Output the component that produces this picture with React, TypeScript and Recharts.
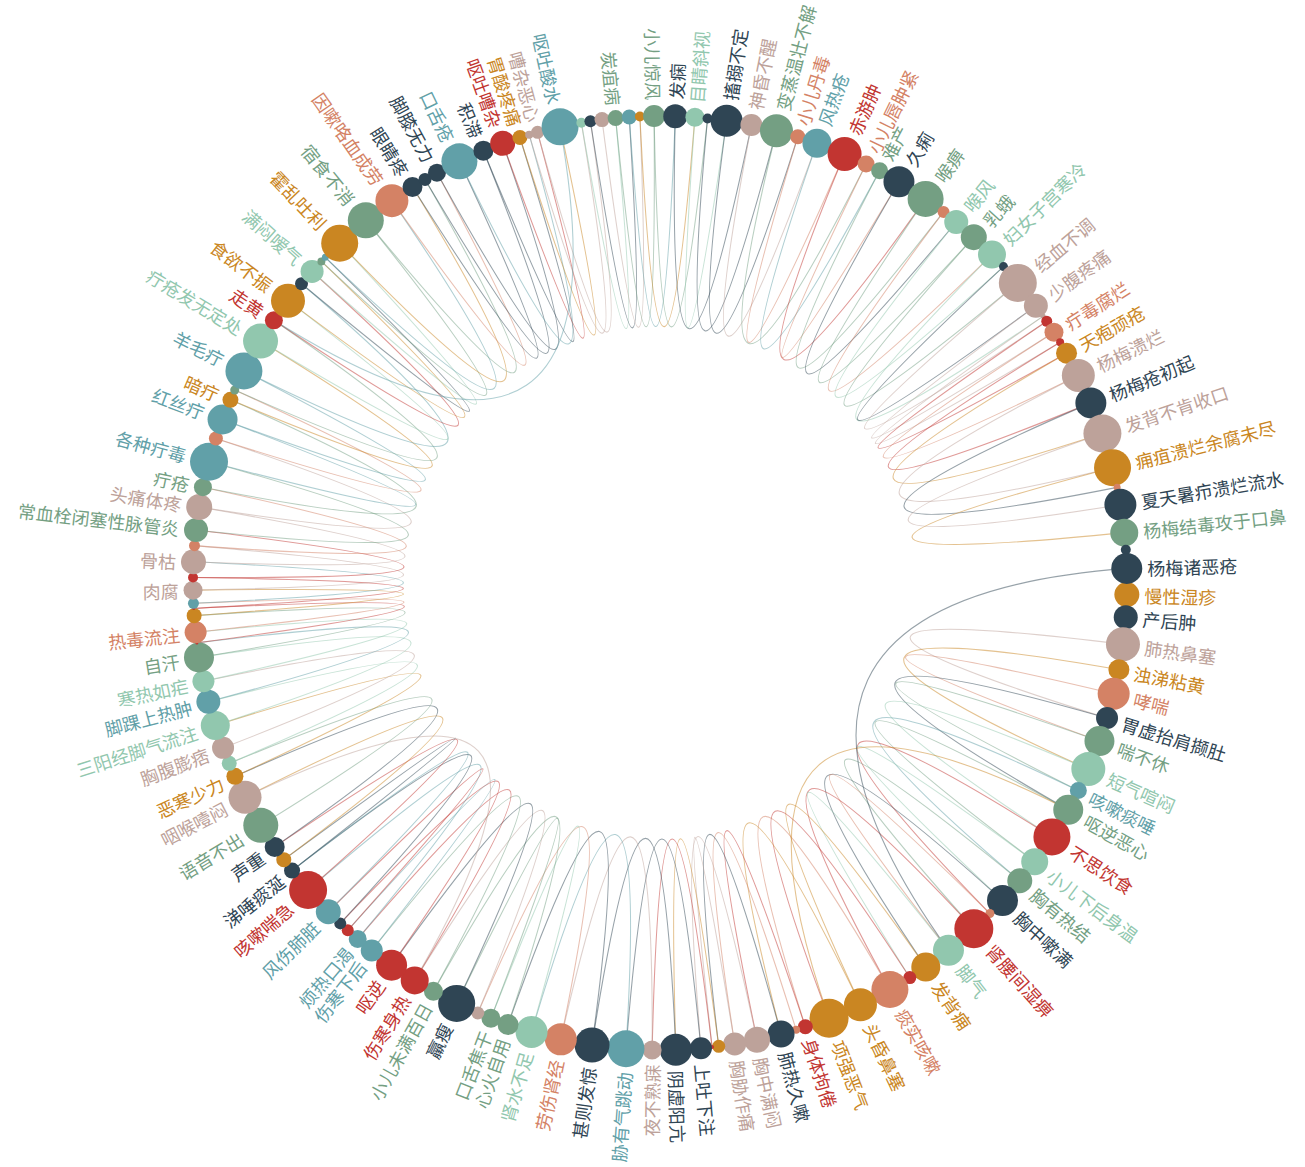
import React from "react";
import { PieChart, Pie } from "recharts";

// echarts 4 default palette, one colour per category
const palette = ["#c23531", "#2f4554", "#61a0a8", "#d48265", "#91c7ae", "#749f83", "#ca8622", "#bda29a"];

// nodes in layout order, clockwise from 3 o'clock ("" = label hidden)
const names = [
  "慢性湿疹", "产后肿", "肺热鼻塞", "浊涕粘黄", "哮喘", "胃虚抬肩撷肚", "喘不休", "短气喧闷", "咳嗽痰唾", "呕逆恶心",
  "不思饮食", "小儿下后身温", "胸有热结", "胸中嗽满", "", "肾腰间湿痹", "脚气", "发背痈", "", "痰实咳嗽",
  "头昏鼻塞", "项强恶气", "身体拘倦", "", "肺热久嗽", "胸中满闷", "胸胁作痛", "", "", "上吐下注",
  "阴虚阳亢", "夜不熟寐", "胁有气跳动", "甚则发惊", "劳伤肾经", "肾水不足", "心火自用", "口舌焦干", "", "羸瘦",
  "小儿未满百日", "伤寒身热", "呕逆", "伤寒下后", "烦热口渴", "", "", "风伤肺脏", "咳嗽喘急", "涕唾痰涎",
  "", "声重", "语音不出", "咽喉噎闷", "恶寒少力", "", "胸腹膨痞", "三阳经脚气流注", "脚踝上热肿", "寒热如疟",
  "自汗", "", "热毒流注", "", "", "", "肉腐", "", "骨枯", "",
  "常血栓闭塞性脉管炎", "头痛体疼", "疔疮", "各种疔毒", "", "红丝疔", "暗疔", "", "羊毛疔", "疔疮发无定处",
  "走黄", "食欲不振", "", "满闷嗳气", "", "", "霍乱吐利", "宿食不消", "因嗽咯血成劳", "眼睛疼",
  "", "脚膝无力", "口舌疮", "积滞", "呕吐嘈杂", "胃酸疼痛", "", "嘈杂恶心", "呕吐酸水", "",
  "", "", "炭疽病", "", "", "小儿惊风", "发痫", "目睛斜视", "", "搐搦不定",
  "神昏不醒", "变蒸温壮不解", "小儿丹毒", "风热疮", "赤游肿", "小儿唇肿紧", "难产", "久痢", "喉痹", "",
  "喉风", "乳蛾", "妇女子宫寒冷", "", "经血不调", "少腹疼痛", "", "", "疔毒腐烂", "",
  "天疱顽疮", "杨梅溃烂", "杨梅疮初起", "发背不肯收口", "痈疽溃烂余腐未尽", "", "夏天暑疖溃烂流水", "杨梅结毒攻于口鼻", "", "杨梅诸恶疮",
];

const sizes = [
  25, 24, 34, 21, 32, 22, 30, 34, 17, 30,
  37, 27, 25, 31, 9, 39, 31, 29, 13, 37,
  33, 39, 15, 8, 27, 26, 23, 13, 4, 22,
  32, 19, 37, 35, 32, 32, 21, 19, 13, 37,
  19, 28, 31, 22, 18, 12, 12, 25, 38, 16,
  15, 20, 35, 33, 17, 15, 22, 29, 24, 22,
  30, 3, 22, 15, 3, 11, 19, 10, 25, 11,
  24, 26, 18, 38, 14, 30, 16, 9, 37, 35,
  18, 34, 13, 23, 8, 7, 37, 36, 33, 20,
  13, 18, 36, 20, 25, 15, 8, 13, 37, 10,
  12, 15, 16, 15, 10, 22, 24, 19, 10, 32,
  22, 33, 15, 29, 34, 17, 17, 31, 36, 12,
  24, 26, 28, 9, 38, 24, 5, 11, 19, 8,
  21, 33, 31, 38, 37, 7, 32, 28, 10, 31,
];

const categories = [
  6, 1, 7, 6, 3, 1, 5, 4, 2, 5,
  0, 4, 5, 1, 3, 0, 4, 6, 0, 3,
  6, 6, 0, 3, 1, 7, 7, 6, 0, 1,
  1, 7, 2, 1, 3, 4, 5, 5, 7, 1,
  5, 0, 0, 2, 2, 0, 1, 2, 0, 1,
  6, 1, 5, 7, 6, 4, 7, 4, 2, 4,
  5, 0, 3, 6, 0, 2, 7, 0, 7, 3,
  5, 7, 5, 2, 3, 2, 6, 5, 2, 4,
  0, 6, 1, 4, 5, 2, 6, 5, 3, 1,
  1, 1, 2, 1, 0, 6, 7, 7, 2, 4,
  1, 7, 5, 2, 6, 5, 1, 4, 1, 1,
  7, 5, 3, 2, 0, 3, 5, 1, 5, 3,
  4, 5, 4, 1, 7, 7, 7, 0, 3, 0,
  6, 7, 1, 7, 6, 3, 1, 5, 1, 1,
];

// [source, target] node indices
const links: [number, number][] = [
  [2, 5], [3, 7], [4, 6], [5, 9], [6, 8], [7, 10], [8, 12], [9, 11],
  [10, 14], [11, 13], [12, 15], [13, 17], [14, 16], [15, 19], [16, 18], [17, 20], [18, 21], [19, 22],
  [20, 24], [21, 9], [22, 25], [23, 26], [24, 27], [25, 29], [26, 28], [27, 30], [28, 31], [29, 32],
  [30, 33], [31, 34], [32, 35], [33, 36], [34, 38], [35, 37], [36, 40], [37, 39], [38, 41], [39, 42],
  [40, 43], [41, 44], [42, 46], [43, 45], [44, 48], [45, 47], [46, 49], [47, 49], [48, 51], [49, 50],
  [50, 53], [51, 54], [52, 55], [53, 41], [54, 57], [55, 58], [56, 59], [57, 60], [58, 61], [59, 62],
  [60, 63], [61, 64], [62, 65], [63, 66], [64, 67], [65, 68], [66, 69], [67, 70], [68, 71], [69, 72],
  [70, 73], [71, 74], [72, 76], [73, 75], [74, 77], [75, 78], [76, 79], [77, 80], [78, 82], [79, 81],
  [80, 83], [81, 84], [82, 85], [83, 86], [84, 87], [85, 88], [86, 89], [87, 90], [88, 91], [89, 92],
  [90, 93], [91, 94], [92, 96], [93, 95], [94, 97], [95, 98], [96, 99], [97, 100], [98, 80], [99, 102],
  [100, 103], [101, 104], [102, 105], [103, 106], [104, 107], [105, 108], [106, 110], [107, 109], [108, 111], [109, 112],
  [110, 113], [111, 115], [112, 114], [113, 116], [114, 118], [115, 117], [116, 119], [117, 120], [118, 121], [119, 122],
  [120, 123], [121, 124], [122, 126], [123, 125], [124, 127], [125, 128], [126, 129], [127, 130], [128, 131], [129, 132],
  [130, 133], [131, 134], [132, 135], [133, 136], [134, 137], [139, 16],
];

const RADIUS = 467;
const CX = 660;
const CY = 583;

// circular layout: each node gets its own chord angle plus an equal share of what is left
const chord = sizes.map(s => 2 * Math.asin(s / 2 / RADIUS));
const rest = (2 * Math.PI - chord.reduce((a, b) => a + b, 0)) / sizes.length;
const slots = sizes.map((s, i) => ({ name: names[i] || `n${i}`, value: Math.max(chord[i] + rest, 0.0004) }));
const total = slots.reduce((a, d) => a + d.value, 0);
const nodeAngle: number[] = [];
slots.reduce((acc, d) => {
  nodeAngle.push(((acc + d.value / 2) / total) * 360);
  return acc + d.value;
}, 0);

const FONT = "'Noto Sans CJK SC', 'Noto Sans', sans-serif";

function renderEdges(props: any) {
  const { cx, cy, outerRadius, midAngle, index } = props;
  const out = links.filter(l => l[0] === index);
  if (!out.length) return <g key={`e${index}`} />;
  const a1 = (-midAngle * Math.PI) / 180;
  const x1 = cx + outerRadius * Math.cos(a1);
  const y1 = cy + outerRadius * Math.sin(a1);
  return (
    <g key={`e${index}`}>
      {out.map(([s, t]) => {
        const a2 = (nodeAngle[t] * Math.PI) / 180;
        const x2 = cx + outerRadius * Math.cos(a2);
        const y2 = cy + outerRadius * Math.sin(a2);
        // curveness 0.3 -> control point 90% of the way to the centre
        const qx = cx * 0.9 + ((x1 + x2) / 2) * 0.1;
        const qy = cy * 0.9 + ((y1 + y2) / 2) * 0.1;
        return (
          <path
            key={`${s}-${t}`}
            d={`M${x1},${y1} Q${qx},${qy} ${x2},${y2}`}
            fill="none"
            stroke={palette[categories[s]]}
            strokeOpacity={0.5}
            strokeWidth={1.1}
          />
        );
      })}
    </g>
  );
}

function renderNode(props: any) {
  const { cx, cy, outerRadius, midAngle, index } = props;
  const deg = -midAngle;
  const rad = (deg * Math.PI) / 180;
  const x = cx + outerRadius * Math.cos(rad);
  const y = cy + outerRadius * Math.sin(rad);
  const size = sizes[index];
  const color = palette[categories[index]];
  const left = x < cx;
  const off = size / 2 + 5;
  return (
    <g key={`n${index}`}>
      <circle cx={x} cy={y} r={size / 2} fill={color} />
      {names[index] ? (
        <text
          x={left ? x - off : x + off}
          y={y}
          textAnchor={left ? "end" : "start"}
          dominantBaseline="central"
          fill={color}
          fontSize={18}
          fontFamily={FONT}
          transform={`rotate(${left ? deg - 180 : deg} ${x} ${y})`}
        >
          {names[index]}
        </text>
      ) : null}
    </g>
  );
}

export default function App() {
  return (
    <div style={{ position: "absolute", left: 0, top: 0, width: 1305, height: 1167, background: "#fff" }}>
      <PieChart width={1305} height={1167} margin={{ top: 0, right: 0, bottom: 0, left: 0 }}>
        <Pie
          data={slots}
          dataKey="value"
          cx={CX}
          cy={CY}
          innerRadius={RADIUS - 1}
          outerRadius={RADIUS}
          startAngle={0}
          endAngle={-360}
          paddingAngle={0}
          fill="none"
          stroke="none"
          label={renderEdges}
          labelLine={false}
          isAnimationActive={false}
        />
        <Pie
          data={slots}
          dataKey="value"
          cx={CX}
          cy={CY}
          innerRadius={RADIUS - 1}
          outerRadius={RADIUS}
          startAngle={0}
          endAngle={-360}
          paddingAngle={0}
          fill="none"
          stroke="none"
          label={renderNode}
          labelLine={false}
          isAnimationActive={false}
        />
      </PieChart>
    </div>
  );
}
